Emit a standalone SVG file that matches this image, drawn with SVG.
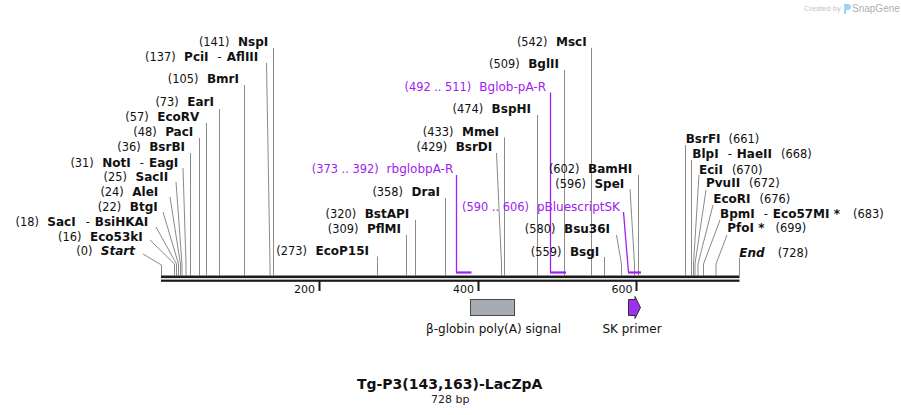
<svg xmlns="http://www.w3.org/2000/svg" width="901" height="415" viewBox="0 0 901 415">
<style>
text{font-family:"DejaVu Sans","Verdana",sans-serif;fill:#111}
.n{font-size:11.4px;font-weight:normal}
.b{font-size:12px;font-weight:bold}
.i{font-size:12px;font-weight:bold;font-style:italic}
.pn{font-size:11.4px;fill:#a020f0}
.pt{font-size:12px;fill:#a020f0}
.ln{fill:none;stroke:#8a8a8a;stroke-width:1}
.pl{fill:none;stroke:#a020f0;stroke-width:1.3}
.pb{fill:none;stroke:#a020f0;stroke-width:2.2}
.ax{font-size:11px;fill:#111}
</style>
<rect width="901" height="415" fill="#fff"/>
<!-- logo -->
<g id="logo">
<text x="804" y="11" style="font-size:7.5px;fill:#c4c4c4;font-family:'Liberation Sans',sans-serif">Created by</text>
<path d="M844,4 h4 a3,3 0 0 1 0,6 h-2 v4 h-2 z" fill="#9fd3f5"/>
<text x="852" y="11.5" style="font-size:10px;fill:#b0b0b0;font-family:'Liberation Sans',sans-serif">SnapGene</text>
</g>
<!-- connectors -->
<g id="connectors">
<polyline class="ln" points="143,254 161.5,265 161.5,275.5"/>
<polyline class="ln" points="150,240 174.5,264 174.5,275.5"/>
<polyline class="ln" points="156,227 176.5,264 176.5,275.5"/>
<polyline class="ln" points="163,212 178.5,264 178.5,275.5"/>
<polyline class="ln" points="170,197 180.5,264 180.5,275.5"/>
<polyline class="ln" points="176,182 182,264 182,275.5"/>
<polyline class="ln" points="183,168 186,264 186,275.5"/>
<line class="ln" x1="190.5" y1="153" x2="190.5" y2="275.5"/>
<line class="ln" x1="199.5" y1="138" x2="199.5" y2="275.5"/>
<line class="ln" x1="206.5" y1="123" x2="206.5" y2="275.5"/>
<line class="ln" x1="219.5" y1="109" x2="219.5" y2="275.5"/>
<line class="ln" x1="244.5" y1="85" x2="244.5" y2="275.5"/>
<polyline class="ln" points="266.5,63 270,264 270,275.5"/>
<line class="ln" x1="273.5" y1="48" x2="273.5" y2="275.5"/>
<line class="ln" x1="377.5" y1="256.5" x2="377.5" y2="275.5"/>
<line class="ln" x1="406.5" y1="235" x2="406.5" y2="275.5"/>
<line class="ln" x1="415.5" y1="220" x2="415.5" y2="275.5"/>
<line class="ln" x1="445.5" y1="198" x2="445.5" y2="275.5"/>
<polyline class="ln" points="496.5,153 501.5,264 501.5,275.5"/>
<line class="ln" x1="504.5" y1="137.5" x2="504.5" y2="275.5"/>
<line class="ln" x1="537.5" y1="115" x2="537.5" y2="275.5"/>
<line class="ln" x1="564.5" y1="70" x2="564.5" y2="275.5"/>
<line class="ln" x1="591.5" y1="48" x2="591.5" y2="275.5"/>
<line class="ln" x1="604.5" y1="257" x2="604.5" y2="275.5"/>
<polyline class="ln" points="616.5,235 621.5,264 621.5,275.5"/>
<polyline class="ln" points="630,189 634.5,264 634.5,275.5"/>
<line class="ln" x1="638.5" y1="175" x2="638.5" y2="275.5"/>
<line class="ln" x1="685.5" y1="145" x2="685.5" y2="275.5"/>
<polyline class="ln" points="691.5,160 691.5,264 691.5,275.5"/>
<polyline class="ln" points="699,175 693.5,264 693.5,275.5"/>
<polyline class="ln" points="706,190 695,264 695,275.5"/>
<polyline class="ln" points="713,205 698,264 698,275.5"/>
<polyline class="ln" points="720,220 703.5,264 703.5,275.5"/>
<polyline class="ln" points="727,235 716,264 716,275.5"/>
<line class="ln" x1="739.5" y1="258" x2="739.5" y2="275.5"/>
<!-- primers -->
<polyline class="pl" points="456.5,175 456.5,272.5"/>
<line class="pb" x1="456" y1="272.5" x2="471.5" y2="272.5"/>
<polyline class="pl" points="550.5,92.5 550.5,272.5"/>
<line class="pb" x1="550" y1="272.5" x2="566" y2="272.5"/>
<polyline class="pl" points="623.5,212 628.5,272.5"/>
<line class="pb" x1="628" y1="272.5" x2="641" y2="272.5"/>
</g>
<!-- backbone -->
<g id="backbone">
<rect x="161" y="275.5" width="578.5" height="2.6" fill="#1a1a1a"/>
<rect x="161" y="279.6" width="578.5" height="2.2" fill="#1a1a1a"/>
<rect x="318.5" y="281" width="2" height="10" fill="#1a1a1a"/>
<rect x="477.5" y="281" width="2" height="10" fill="#1a1a1a"/>
<rect x="635.5" y="281" width="2" height="10" fill="#1a1a1a"/>
<text class="ax" x="315" y="293" text-anchor="end">200</text>
<text class="ax" x="474" y="293" text-anchor="end">400</text>
<text class="ax" x="632.5" y="293" text-anchor="end">600</text>
</g>
<!-- features -->
<g id="bglobin-polyA">
<rect x="470.5" y="299.5" width="44" height="16" fill="#a7abb2" stroke="#4a4a4a" stroke-width="1"/>
<text class="n" x="493.5" y="332.5" text-anchor="middle" style="font-size:12px">β-globin poly(A) signal</text>
</g>
<g id="sk-primer">
<polygon points="628.5,299.5 635,299.5 635,296.5 640.5,307.5 635,318.5 635,315.5 628.5,315.5" fill="#9b30f0" stroke="#333" stroke-width="1"/>
<text class="n" x="632" y="332.5" text-anchor="middle" style="font-size:12px">SK primer</text>
</g>
<!-- left labels -->
<g id="NspI"><text x="268.3" y="46.3" text-anchor="end"><tspan class="n">(141)</tspan><tspan class="b" dx="8.5">NspI</tspan></text></g>
<g id="PciI"><text x="258.3" y="60.7" text-anchor="end"><tspan class="n">(137)</tspan><tspan class="b" dx="8.5">PciI</tspan><tspan class="n" dx="9">-</tspan><tspan class="b" dx="5">AflIII</tspan></text></g>
<g id="BmrI"><text x="239" y="83.3" text-anchor="end"><tspan class="n">(105)</tspan><tspan class="b" dx="8.5">BmrI</tspan></text></g>
<g id="EarI"><text x="214" y="105.7" text-anchor="end"><tspan class="n">(73)</tspan><tspan class="b" dx="8.5">EarI</tspan></text></g>
<g id="EcoRV"><text x="199.3" y="121.3" text-anchor="end"><tspan class="n">(57)</tspan><tspan class="b" dx="8.5">EcoRV</tspan></text></g>
<g id="PacI"><text x="193.3" y="135.7" text-anchor="end"><tspan class="n">(48)</tspan><tspan class="b" dx="8.5">PacI</tspan></text></g>
<g id="BsrBI"><text x="185" y="151.3" text-anchor="end"><tspan class="n">(36)</tspan><tspan class="b" dx="8.5">BsrBI</tspan></text></g>
<g id="NotI"><text x="178.3" y="166.7" text-anchor="end"><tspan class="n">(31)</tspan><tspan class="b" dx="8.5">NotI</tspan><tspan class="n" dx="9">-</tspan><tspan class="b" dx="5">EagI</tspan></text></g>
<g id="SacII"><text x="168.3" y="180.7" text-anchor="end"><tspan class="n">(25)</tspan><tspan class="b" dx="8.5">SacII</tspan></text></g>
<g id="AleI"><text x="158.3" y="195.7" text-anchor="end"><tspan class="n">(24)</tspan><tspan class="b" dx="8.5">AleI</tspan></text></g>
<g id="BtgI"><text x="157.7" y="210.7" text-anchor="end"><tspan class="n">(22)</tspan><tspan class="b" dx="8.5">BtgI</tspan></text></g>
<g id="SacI"><text x="148.3" y="225.7" text-anchor="end"><tspan class="n">(18)</tspan><tspan class="b" dx="8.5">SacI</tspan><tspan class="n" dx="10">-</tspan><tspan class="b" dx="5">BsiHKAI</tspan></text></g>
<g id="Eco53kI"><text x="142.7" y="240.7" text-anchor="end"><tspan class="n">(16)</tspan><tspan class="b" dx="8.5">Eco53kI</tspan></text></g>
<g id="Start"><text x="135" y="255" text-anchor="end"><tspan class="n">(0)</tspan><tspan class="i" dx="8.5">Start</tspan></text></g>
<!-- middle labels -->
<g id="MscI"><text x="586.7" y="46.3" text-anchor="end"><tspan class="n">(542)</tspan><tspan class="b" dx="8.5">MscI</tspan></text></g>
<g id="BglII"><text x="559" y="68" text-anchor="end"><tspan class="n">(509)</tspan><tspan class="b" dx="8.5">BglII</tspan></text></g>
<g id="Bglob-pA-R"><text x="546" y="91.3" text-anchor="end"><tspan class="pn">(492 .. 511)</tspan><tspan class="pt" dx="8">Bglob-pA-R</tspan></text></g>
<g id="BspHI"><text x="531" y="113.3" text-anchor="end"><tspan class="n">(474)</tspan><tspan class="b" dx="8.5">BspHI</tspan></text></g>
<g id="MmeI"><text x="499" y="135.7" text-anchor="end"><tspan class="n">(433)</tspan><tspan class="b" dx="8.5">MmeI</tspan></text></g>
<g id="BsrDI"><text x="492.3" y="150.7" text-anchor="end"><tspan class="n">(429)</tspan><tspan class="b" dx="8.5">BsrDI</tspan></text></g>
<g id="rbglobpA-R"><text x="453.3" y="173.3" text-anchor="end"><tspan class="pn">(373 .. 392)</tspan><tspan class="pt" dx="8">rbglobpA-R</tspan></text></g>
<g id="DraI"><text x="440" y="196.3" text-anchor="end"><tspan class="n">(358)</tspan><tspan class="b" dx="8.5">DraI</tspan></text></g>
<g id="BstAPI"><text x="409.3" y="218" text-anchor="end"><tspan class="n">(320)</tspan><tspan class="b" dx="8.5">BstAPI</tspan></text></g>
<g id="PflMI"><text x="401" y="233.3" text-anchor="end"><tspan class="n">(309)</tspan><tspan class="b" dx="8.5">PflMI</tspan></text></g>
<g id="EcoP15I"><text x="369" y="255" text-anchor="end"><tspan class="n">(273)</tspan><tspan class="b" dx="8.5">EcoP15I</tspan></text></g>
<g id="BamHI"><text x="632.3" y="173.3" text-anchor="end"><tspan class="n">(602)</tspan><tspan class="b" dx="8.5">BamHI</tspan></text></g>
<g id="SpeI"><text x="624.3" y="188" text-anchor="end"><tspan class="n">(596)</tspan><tspan class="b" dx="8.5">SpeI</tspan></text></g>
<g id="pBluescriptSK"><text x="620" y="211.3" text-anchor="end"><tspan class="pn">(590 .. 606)</tspan><tspan class="pt" dx="8">pBluescriptSK</tspan></text></g>
<g id="Bsu36I"><text x="610" y="233" text-anchor="end"><tspan class="n">(580)</tspan><tspan class="b" dx="8.5">Bsu36I</tspan></text></g>
<g id="BsgI"><text x="599.3" y="255.7" text-anchor="end"><tspan class="n">(559)</tspan><tspan class="b" dx="8.5">BsgI</tspan></text></g>
<!-- right labels -->
<g id="BsrFI"><text x="685.7" y="143"><tspan class="b">BsrFI</tspan><tspan class="n" dx="8">(661)</tspan></text></g>
<g id="BlpI"><text x="692.3" y="158"><tspan class="b">BlpI</tspan><tspan class="n" dx="9">-</tspan><tspan class="b" dx="5">HaeII</tspan><tspan class="n" dx="9">(668)</tspan></text></g>
<g id="EciI"><text x="699" y="174"><tspan class="b">EciI</tspan><tspan class="n" dx="9">(670)</tspan></text></g>
<g id="PvuII"><text x="706" y="187.3"><tspan class="b">PvuII</tspan><tspan class="n" dx="9">(672)</tspan></text></g>
<g id="EcoRI"><text x="713.3" y="203.3"><tspan class="b">EcoRI</tspan><tspan class="n" dx="9">(676)</tspan></text></g>
<g id="BpmI"><text x="720" y="218"><tspan class="b">BpmI</tspan><tspan class="n" dx="9">-</tspan><tspan class="b" dx="5">Eco57MI *</tspan><tspan class="n" dx="13">(683)</tspan></text></g>
<g id="PfoI"><text x="727.3" y="232.3"><tspan class="b">PfoI *</tspan><tspan class="n" dx="11">(699)</tspan></text></g>
<g id="End"><text x="739.3" y="256.7"><tspan class="i">End</tspan><tspan class="n" dx="13">(728)</tspan></text></g>
<!-- title -->
<g id="title">
<text x="449.7" y="389" text-anchor="middle" style="font-size:14px;font-weight:bold">Tg-P3(143,163)-LacZpA</text>
<text x="450.3" y="403" text-anchor="middle" style="font-size:11px;fill:#222">728 bp</text>
</g>
</svg>
